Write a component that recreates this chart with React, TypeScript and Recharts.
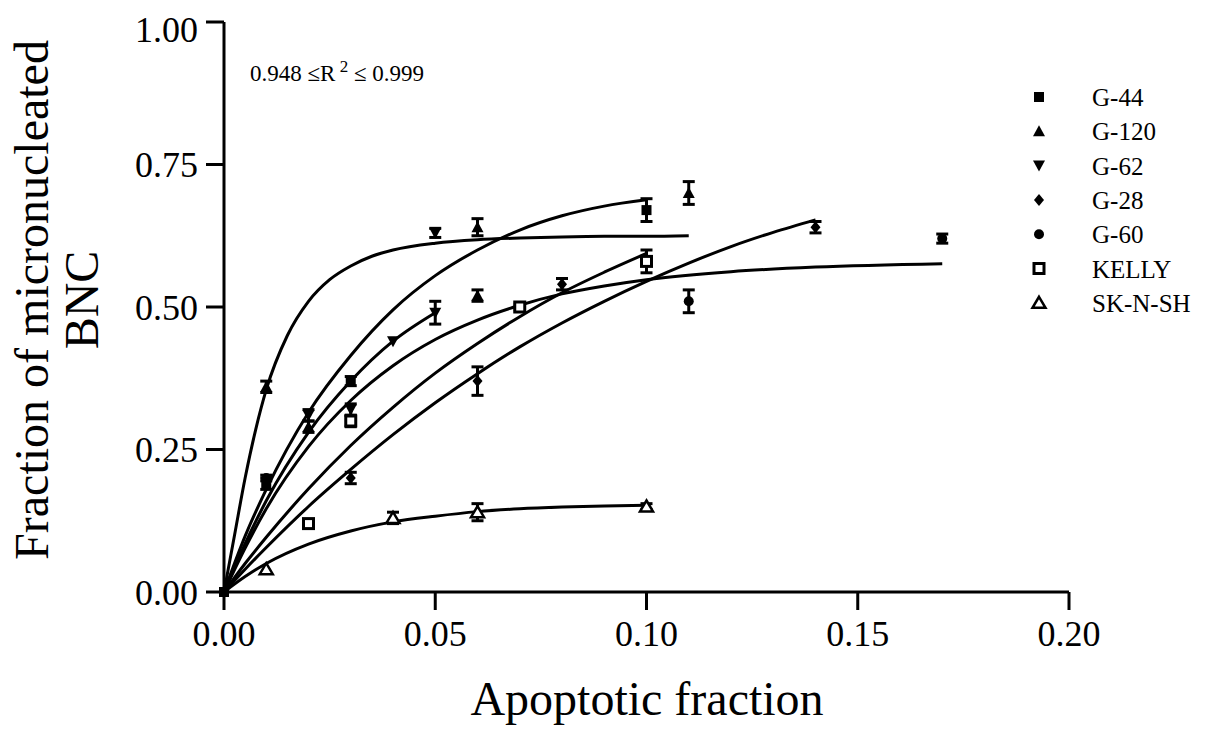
import { ComposedChart, Line, Scatter, XAxis, YAxis, ErrorBar, Legend, Customized } from 'recharts';

const xTicks = [0, 0.05, 0.1, 0.15, 0.2];
const yTicks = [0, 0.25, 0.5, 0.75, 1];

// measured points (x = apoptotic fraction, y = fraction MN BNC, err = half bar)
const ptsG44 = [
  { x: 0, y: 0, err: 0 },
  { x: 0.01, y: 0.19, err: 0.01 },
  { x: 0.03, y: 0.37, err: 0.008 },
  { x: 0.1, y: 0.67, err: 0.02 },
];
const ptsG120 = [
  { x: 0.01, y: 0.36, err: 0.01 },
  { x: 0.02, y: 0.29, err: 0.01 },
  { x: 0.06, y: 0.52, err: 0.01 },
  { x: 0.06, y: 0.64, err: 0.015 },
  { x: 0.11, y: 0.7, err: 0.02 },
];
const ptsG62 = [
  { x: 0.02, y: 0.31, err: 0.01 },
  { x: 0.03, y: 0.32, err: 0.01 },
  { x: 0.04, y: 0.44, err: 0 },
  { x: 0.05, y: 0.49, err: 0.02 },
  { x: 0.05, y: 0.63, err: 0.008 },
];
const ptsG28 = [
  { x: 0.03, y: 0.2, err: 0.01 },
  { x: 0.06, y: 0.37, err: 0.025 },
  { x: 0.08, y: 0.54, err: 0.01 },
  { x: 0.14, y: 0.64, err: 0.01 },
];
const ptsG60 = [
  { x: 0.01, y: 0.2, err: 0.005 },
  { x: 0.11, y: 0.51, err: 0.02 },
  { x: 0.17, y: 0.62, err: 0.008 },
];
const ptsKelly = [
  { x: 0.02, y: 0.12, err: 0 },
  { x: 0.03, y: 0.3, err: 0.01 },
  { x: 0.07, y: 0.5, err: 0.005 },
  { x: 0.1, y: 0.58, err: 0.02 },
];
const ptsSK = [
  { x: 0.01, y: 0.04, err: 0 },
  { x: 0.04, y: 0.13, err: 0.01 },
  { x: 0.06, y: 0.14, err: 0.015 },
  { x: 0.1, y: 0.15, err: 0.005 },
];

// fitted curves
const fitG120 = [
  { x: 0, y: 0 }, { x: 0.0025, y: 0.1 }, { x: 0.005, y: 0.2 }, { x: 0.0075, y: 0.285 },
  { x: 0.01, y: 0.355 }, { x: 0.015, y: 0.45 }, { x: 0.02, y: 0.51 }, { x: 0.025, y: 0.548 },
  { x: 0.03, y: 0.572 }, { x: 0.035, y: 0.589 }, { x: 0.04, y: 0.6 }, { x: 0.05, y: 0.612 },
  { x: 0.06, y: 0.618 }, { x: 0.07, y: 0.621 }, { x: 0.08, y: 0.623 }, { x: 0.09, y: 0.624 },
  { x: 0.1, y: 0.624 }, { x: 0.11, y: 0.625 },
];
const fitG44 = [
  { x: 0, y: 0 }, { x: 0.005, y: 0.098 }, { x: 0.01, y: 0.18 }, { x: 0.02, y: 0.315 },
  { x: 0.03, y: 0.415 }, { x: 0.04, y: 0.495 }, { x: 0.05, y: 0.555 }, { x: 0.06, y: 0.6 },
  { x: 0.07, y: 0.635 }, { x: 0.08, y: 0.66 }, { x: 0.09, y: 0.677 }, { x: 0.1, y: 0.688 },
];
const fitG62 = [
  { x: 0, y: 0 }, { x: 0.005, y: 0.085 }, { x: 0.01, y: 0.16 }, { x: 0.02, y: 0.28 },
  { x: 0.03, y: 0.37 }, { x: 0.04, y: 0.44 }, { x: 0.05, y: 0.49 },
];
const fitG60 = [
  { x: 0, y: 0 }, { x: 0.005, y: 0.077 }, { x: 0.01, y: 0.146 }, { x: 0.02, y: 0.255 },
  { x: 0.03, y: 0.336 }, { x: 0.04, y: 0.397 }, { x: 0.05, y: 0.443 }, { x: 0.06, y: 0.477 },
  { x: 0.07, y: 0.503 }, { x: 0.08, y: 0.523 }, { x: 0.09, y: 0.537 }, { x: 0.1, y: 0.548 },
  { x: 0.12, y: 0.562 }, { x: 0.14, y: 0.57 }, { x: 0.17, y: 0.576 },
];
const fitG28 = [
  { x: 0, y: 0 }, { x: 0.005, y: 0.04 }, { x: 0.01, y: 0.078 }, { x: 0.02, y: 0.15 },
  { x: 0.03, y: 0.215 }, { x: 0.04, y: 0.276 }, { x: 0.05, y: 0.332 }, { x: 0.06, y: 0.383 },
  { x: 0.07, y: 0.43 }, { x: 0.08, y: 0.472 }, { x: 0.09, y: 0.51 }, { x: 0.1, y: 0.545 },
  { x: 0.11, y: 0.577 }, { x: 0.12, y: 0.606 }, { x: 0.13, y: 0.631 }, { x: 0.14, y: 0.653 },
];
const fitKelly = [
  { x: 0, y: 0 }, { x: 0.005, y: 0.05 }, { x: 0.01, y: 0.096 }, { x: 0.02, y: 0.181 },
  { x: 0.03, y: 0.257 }, { x: 0.04, y: 0.324 }, { x: 0.05, y: 0.384 }, { x: 0.06, y: 0.436 },
  { x: 0.07, y: 0.483 }, { x: 0.08, y: 0.525 }, { x: 0.09, y: 0.561 }, { x: 0.1, y: 0.594 },
];
const fitSK = [
  { x: 0, y: 0 }, { x: 0.005, y: 0.027 }, { x: 0.01, y: 0.05 }, { x: 0.02, y: 0.084 },
  { x: 0.03, y: 0.107 }, { x: 0.04, y: 0.123 }, { x: 0.05, y: 0.133 }, { x: 0.06, y: 0.141 },
  { x: 0.07, y: 0.146 }, { x: 0.08, y: 0.149 }, { x: 0.09, y: 0.151 }, { x: 0.1, y: 0.152 },
];

const seriesNames = ['G-44', 'G-120', 'G-62', 'G-28', 'G-60', 'KELLY', 'SK-N-SH'];
const markerKinds = ['square', 'tri', 'inv', 'diamond', 'circle', 'osquare', 'otri'];

const FONT = '"Liberation Serif", "Times New Roman", serif';

function Mark({ cx, cy, kind }: { cx: number; cy: number; kind: string }) {
  if (cx == null || cy == null) return null;
  switch (kind) {
    case 'square':
      return <rect x={cx - 5} y={cy - 5} width={10} height={10} fill="#000" />;
    case 'tri':
      return <polygon points={`${cx},${cy - 6} ${cx + 6},${cy + 5} ${cx - 6},${cy + 5}`} fill="#000" />;
    case 'inv':
      return <polygon points={`${cx - 6},${cy - 5} ${cx + 6},${cy - 5} ${cx},${cy + 6}`} fill="#000" />;
    case 'diamond':
      return <polygon points={`${cx},${cy - 6} ${cx + 5},${cy} ${cx},${cy + 6} ${cx - 5},${cy}`} fill="#000" />;
    case 'circle':
      return <circle cx={cx} cy={cy} r={5} fill="#000" />;
    case 'osquare':
      return <rect x={cx - 5} y={cy - 5} width={10} height={10} fill="#fff" stroke="#000" strokeWidth={3} />;
    default:
      return (
        <polygon
          points={`${cx},${cy - 6} ${cx + 6.5},${cy + 5} ${cx - 6.5},${cy + 5}`}
          fill="#fff"
          stroke="#000"
          strokeWidth={2.5}
        />
      );
  }
}

function LegendBox() {
  return (
    <svg width={190} height={250}>
      {seriesNames.map((name, i) => (
        <g key={name}>
          <Mark cx={11} cy={12 + i * 34.3} kind={markerKinds[i]} />
          <text x={64} y={21 + i * 34.3} fontFamily={FONT} fontSize={25} fill="#000">
            {name}
          </text>
        </g>
      ))}
    </svg>
  );
}

function YTitle() {
  return (
    <g fontFamily={FONT} fontSize={48} fill="#000" textAnchor="middle">
      <text x={40} y={292} transform="rotate(-90, 40, 292)">Fraction of micronucleated</text>
      <text x={90} y={292} transform="rotate(-90, 90, 292)">BNC</text>
    </g>
  );
}

function XTitle() {
  return (
    <text x={639} y={707} fontFamily={FONT} fontSize={48} fill="#000" textAnchor="middle">
      Apoptotic fraction
    </text>
  );
}

function RNote() {
  return (
    <text x={242} y={73} fontFamily={FONT} fontSize={23} fill="#000">
      0.948 ≤R<tspan dy={-9} fontSize={17}> 2</tspan>
      <tspan dy={9}> ≤ 0.999</tspan>
    </text>
  );
}

const pointSets = [ptsG44, ptsG120, ptsG62, ptsG28, ptsG60, ptsKelly, ptsSK];
const fitSets = [fitG44, fitG120, fitG62, fitG28, fitG60, fitKelly, fitSK];

export default function App() {
  const tickStyle = { fontFamily: FONT, fontSize: 36, fill: '#000' };
  return (
    <ComposedChart width={1199} height={717} margin={{ top: 14, right: 138, left: 0, bottom: 0 }}>
      <XAxis
        dataKey="x"
        type="number"
        domain={[0, 0.2]}
        ticks={xTicks}
        tickFormatter={(v: number) => v.toFixed(2)}
        height={133}
        tickSize={18}
        tickMargin={10}
        tick={tickStyle}
        axisLine={{ stroke: '#000', strokeWidth: 3 }}
        tickLine={{ stroke: '#000', strokeWidth: 3 }}
        label={{ content: () => <XTitle /> }}
      />
      <YAxis
        type="number"
        domain={[0, 1]}
        ticks={yTicks}
        tickFormatter={(v: number) => v.toFixed(2)}
        width={216}
        tickSize={18}
        tickMargin={8}
        tick={tickStyle}
        axisLine={{ stroke: '#000', strokeWidth: 3 }}
        tickLine={{ stroke: '#000', strokeWidth: 3 }}
        label={{ content: () => <YTitle /> }}
      />
      {fitSets.map((d, i) => (
        <Line
          key={'fit' + i}
          data={d}
          dataKey="y"
          type="monotone"
          stroke="#000"
          strokeWidth={3}
          dot={false}
          activeDot={false}
          legendType="none"
          isAnimationActive={false}
        />
      ))}
      {pointSets.map((d, i) => (
        <Scatter
          key={seriesNames[i]}
          name={seriesNames[i]}
          data={d}
          dataKey="y"
          fill="#000"
          isAnimationActive={false}
          shape={(p: any) => <Mark cx={p.cx} cy={p.cy} kind={markerKinds[i]} />}
        >
          <ErrorBar dataKey="err" direction="y" width={6} strokeWidth={3} stroke="#000" />
        </Scatter>
      ))}
      <Customized component={RNote} />
      <Legend
        layout="horizontal"
        verticalAlign="middle"
        align="center"
        content={() => <LegendBox />}
        wrapperStyle={{ left: 1020, top: 77, width: 190, height: 250 }}
      />
    </ComposedChart>
  );
}
